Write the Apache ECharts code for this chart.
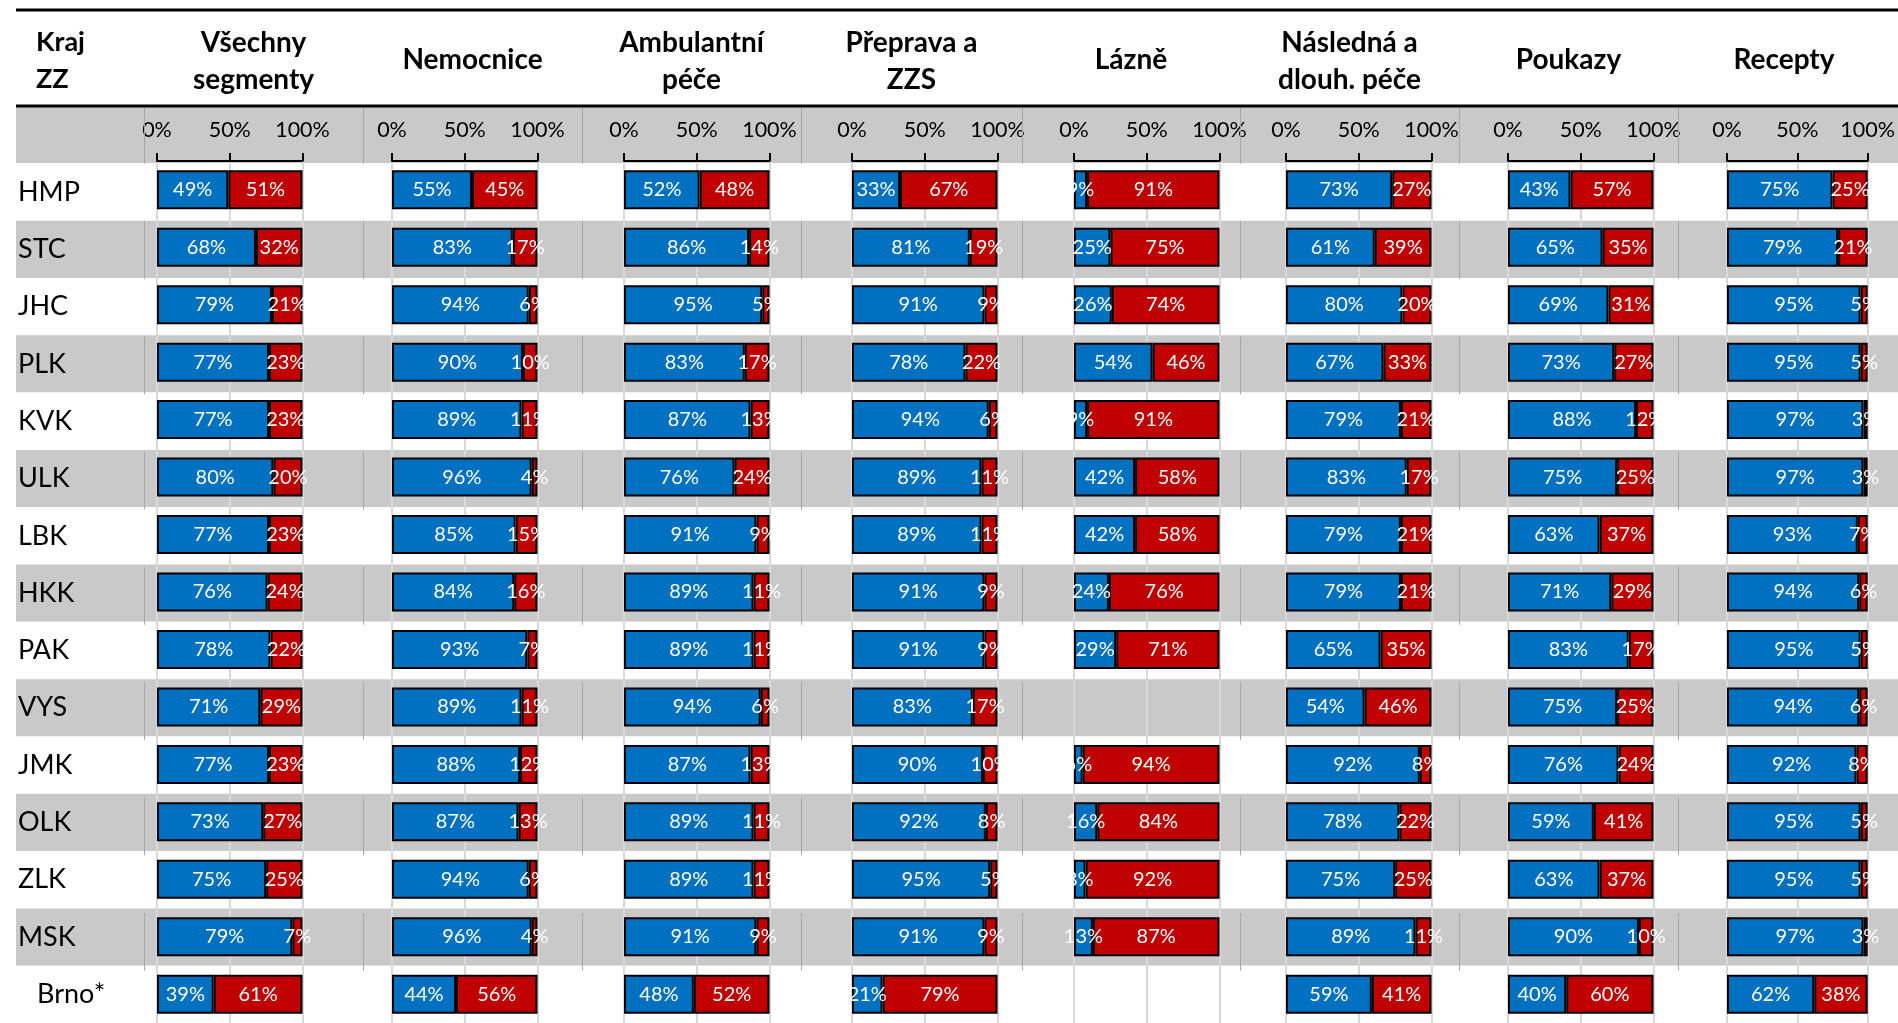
<!DOCTYPE html>
<html><head><meta charset="utf-8">
<script src="https://cdn.jsdelivr.net/npm/echarts@6/dist/echarts.min.js"></script>
<style>html,body{margin:0;padding:0;background:#fff}#c{width:1898px;height:1023px}</style>
</head><body><div id="c"></div>
<script>
// ---------------- DATA ----------------
const regions = ['HMP','STC','JHC','PLK','KVK','ULK','LBK','HKK','PAK','VYS','JMK','OLK','ZLK','MSK','Brno*'];
const segments = ['Všechny\nsegmenty','Nemocnice','Ambulantní\npéče','Přeprava a\nZZS','Lázně','Následná a\ndlouh. péče','Poukazy','Recepty'];
const tickValues = [0, 50, 100];

const vsechnyBlue   = [49,68,79,77,77,80,77,76,78,71,77,73,75,93,39];
const vsechnyRed    = [51,32,21,23,23,20,23,24,22,29,23,27,25,7,61];
const nemocniceBlue = [55,83,94,90,89,96,85,84,93,89,88,87,94,96,44];
const nemocniceRed  = [45,17,6,10,11,4,15,16,7,11,12,13,6,4,56];
const ambulBlue     = [52,86,95,83,87,76,91,89,89,94,87,89,89,91,48];
const ambulRed      = [48,14,5,17,13,24,9,11,11,6,13,11,11,9,52];
const prepravaBlue  = [33,81,91,78,94,89,89,91,91,83,90,92,95,91,21];
const prepravaRed   = [67,19,9,22,6,11,11,9,9,17,10,8,5,9,79];
const lazneBlue     = [9,25,26,54,9,42,42,24,29,null,6,16,8,13,null];
const lazneRed      = [91,75,74,46,91,58,58,76,71,null,94,84,92,87,null];
const naslednaBlue  = [73,61,80,67,79,83,79,79,65,54,92,78,75,89,59];
const naslednaRed   = [27,39,20,33,21,17,21,21,35,46,8,22,25,11,41];
const poukazyBlue   = [43,65,69,73,88,75,63,71,83,75,76,59,63,90,40];
const poukazyRed    = [57,35,31,27,12,25,37,29,17,25,24,41,37,10,60];
const receptyBlue   = [75,79,95,95,97,97,93,94,95,94,92,95,95,97,62];
const receptyRed    = [25,21,5,5,3,3,7,6,5,6,8,5,5,3,38];
// label printed in the source differs from the drawn bar length (MSK, all segments)
const labelOverrides = { 'blue|0|MSK': '79%' };

const blueSets = [vsechnyBlue, nemocniceBlue, ambulBlue, prepravaBlue, lazneBlue, naslednaBlue, poukazyBlue, receptyBlue];
const redSets  = [vsechnyRed, nemocniceRed, ambulRed, prepravaRed, lazneRed, naslednaRed, poukazyRed, receptyRed];

// ---------------- LAYOUT ----------------
const FONT = 'Lato, "Open Sans", sans-serif';
const BLUE = '#0070C0', RED = '#C00000', BAND = '#C9C9C9';
const bandTop = 106, rowH = 57.64, nBands = 16;
const panelLefts = [157, 392, 624, 852, 1074, 1286, 1508, 1727];
const panelW = 145.5;
const colSeps = [144, 363, 582, 801, 1022, 1240, 1459, 1678];
const headerCenters = [253.5, 472.5, 691.5, 911.5, 1131, 1349.5, 1568.5, 1784];
const panelTop = 161;

const chart = echarts.init(document.getElementById('c'), null, {renderer: 'canvas'});

const grids = [{left: 16, right: 0, top: bandTop, height: rowH * nBands}];
const xAxes = [{type: 'value', gridIndex: 0, show: false, min: 0, max: 1}];
const yAxes = [{
  type: 'category', gridIndex: 0, inverse: true, data: [''].concat(regions),
  axisLine: {show: false}, axisTick: {show: false},
  axisLabel: {inside: true, margin: 2, color: '#000', fontSize: 27, fontFamily: FONT,
    formatter: v => v === 'Brno*' ? '{b|' + v + '}' : v,
    rich: {b: {fontSize: 27, fontFamily: FONT, color: '#000', padding: [0, 0, 0, 19]}}},
  splitLine: {show: false},
  splitArea: {show: true, areaStyle: {color: [BAND, '#FFFFFF']}},
  z: 0
}];
const series = [];

panelLefts.forEach((left, i) => {
  const gi = i + 1;
  grids.push({left: left, top: panelTop, width: panelW, height: rowH * regions.length});
  xAxes.push({
    type: 'value', gridIndex: gi, min: tickValues[0], max: tickValues[tickValues.length - 1],
    interval: tickValues[1] - tickValues[0], position: 'top',
    axisLine: {show: true, lineStyle: {color: '#000', width: 2}},
    axisTick: {show: true, length: 8, lineStyle: {color: '#000', width: 2}},
    axisLabel: {formatter: '{value}%', fontSize: 21.5, fontFamily: FONT, color: '#000', margin: 20},
    splitLine: {show: true, lineStyle: {color: '#D9D9D9', width: 2}}
  });
  yAxes.push({type: 'category', gridIndex: gi, inverse: true, data: regions, show: false});
  const mk = (vals, key, color) => ({
    type: 'bar', xAxisIndex: gi, yAxisIndex: gi, stack: 's' + i, barWidth: 39,
    itemStyle: {color: color, borderColor: '#000', borderWidth: 2},
    label: {show: true, position: 'inside', color: '#fff', fontSize: 20, fontFamily: FONT,
      textBorderWidth: 0, formatter: p => p.value == null ? '' : p.value + '%'},
    data: vals.map((v, r) => {
      const o = labelOverrides[key + '|' + i + '|' + regions[r]];
      if (v == null) return '-';
      return o ? {value: v, label: {formatter: o}} : v;
    }),
    z: 3
  });
  series.push(mk(blueSets[i], 'blue', BLUE));
  series.push(mk(redSets[i], 'red', RED));
});

// decorative elements: rules, headers, separators
const graphic = [];
graphic.push({type: 'line', shape: {x1: 16, y1: 10, x2: 1898, y2: 10}, style: {stroke: '#000', lineWidth: 3}, z: 10});
graphic.push({type: 'line', shape: {x1: 16, y1: bandTop, x2: 1898, y2: bandTop}, style: {stroke: '#000', lineWidth: 3}, z: 10});
graphic.push({type: 'text', x: 36, y: 61, style: {text: 'Kraj\nZZ', fontSize: 27, fontWeight: 'bold', fontFamily: FONT,
  fill: '#000', textAlign: 'left', textVerticalAlign: 'middle', lineHeight: 37}, z: 10});
segments.forEach((s, i) => {
  graphic.push({type: 'text', x: headerCenters[i], y: s.indexOf('\n') >= 0 ? 61 : 60, style: {text: s, fontSize: 28,
    fontWeight: 'bold', fontFamily: FONT, fill: '#000', textAlign: 'center', textVerticalAlign: 'middle', lineHeight: 37}, z: 10});
});
for (let b = 0; b < nBands; b += 2) {
  colSeps.forEach(x => {
    graphic.push({type: 'line', shape: {x1: x + 0.5, y1: bandTop + b * rowH, x2: x + 0.5, y2: bandTop + (b + 1) * rowH},
      style: {stroke: '#A6A6A6', lineWidth: 1}, z: 1, silent: true});
  });
}

chart.setOption({
  animation: false,
  backgroundColor: '#fff',
  grid: grids, xAxis: xAxes, yAxis: yAxes, series: series, graphic: graphic
});
</script></body></html>
